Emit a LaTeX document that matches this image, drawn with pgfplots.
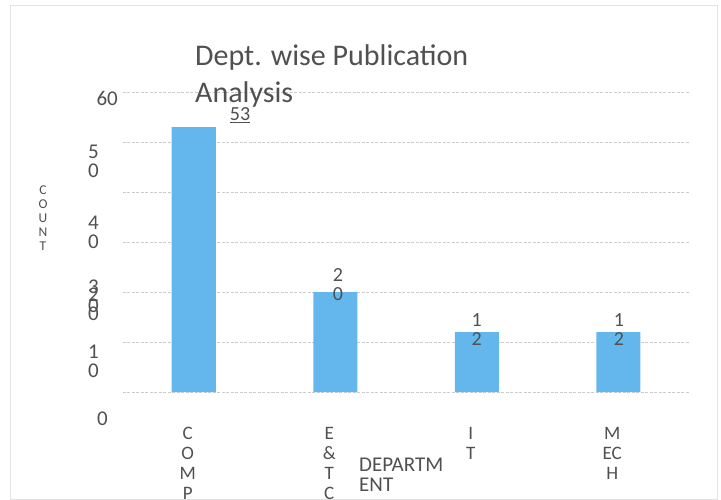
\documentclass[border=0pt]{standalone}
\usepackage{fontspec}
\setmainfont{Carlito}
\usepackage{pgfplots}
\pgfplotsset{compat=1.18}
\definecolor{barblue}{RGB}{99,183,236}
\definecolor{txt}{RGB}{80,80,80}
\begin{document}
\begin{tikzpicture}
\path[use as bounding box] (-123bp,-68bp) rectangle (598bp,432bp);
\draw[gray!22, line width=0.6bp] (-113bp,-67bp) rectangle (594bp,427bp);
\begin{axis}[
  at={(0,0)}, anchor=south west, scale only axis,
  width=566bp, height=340bp,
  xmin=-0.5, xmax=3.5, ymin=-8, ymax=60,
  clip=false,
  axis line style={draw=none},
  major tick length=0pt, tick style={draw=none},
  /pgf/number format/assume math mode=true,
  ytick={0,10,...,60}, yticklabels={},
  ymajorgrids,
  major grid style={gray!40, line width=0.6bp, dash pattern=on 3bp off 1.5bp},
  extra y ticks={58.8,46.2,32,19.2,17.6,6.2,-5.4},
  extra y tick labels={{60},{5\kern19bp\\0\kern19bp},{4\kern19bp\\0\kern19bp},{3\kern19bp\\0\kern19bp},{2\kern19bp\\0\kern19bp},{1\kern19bp\\0\kern19bp},{0\kern10bp}},
  extra y tick style={grid=none},
  yticklabel style={anchor=east, inner sep=0pt, xshift=-5bp, align=right,
    font=\fontsize{21bp}{19bp}\selectfont, text=txt},
  xtick={0,1,2,3},
  xticklabels={{C\\O\\M\\P},{E\\\&\\T\\C},{I\\T},{M\\EC\\H}},
  xticklabel style={anchor=north, inner sep=0pt, yshift=5bp, xshift=-6bp, align=center,
    font=\fontsize{19bp}{20bp}\selectfont, text=txt},
  xlabel={DEPARTM\\ENT},
  xlabel style={at={(axis description cs:0.417,-0.0765)}, anchor=north west, inner sep=0pt,
    align=left, font=\fontsize{21bp}{20bp}\selectfont, text=txt},
  ylabel={C\\O\\U\\N\\T},
  ylabel style={at={(axis description cs:-0.1413,0.7235)}, rotate=-90, anchor=north,
    inner sep=0pt, align=center, font=\fontsize{13.5bp}{14bp}\selectfont, text=txt},
  title={Dept. wise Publication\\Analysis},
  title style={at={(axis description cs:0.1272,1.1235)}, anchor=north west, inner sep=0pt,
    align=left, font=\fontsize{30bp}{37bp}\selectfont, text=txt},
]
\addplot[ybar, bar width=44bp, fill=barblue, draw=none]
  coordinates {(0,53) (1,20) (2,12) (3,12)};
\addplot[draw=none, mark=none, nodes near coords, point meta=explicit symbolic,
  nodes near coords style={anchor=center, align=center, inner sep=0pt,
    font=\fontsize{20bp}{19bp}\selectfont, text=txt}]
  coordinates {(0.327,55.4) [\underline{53}] (1.019,21.4) [2\\0] (2,12.4) [1\\2] (3.005,12.4) [1\\2]};
\end{axis}
\end{tikzpicture}
\end{document}
